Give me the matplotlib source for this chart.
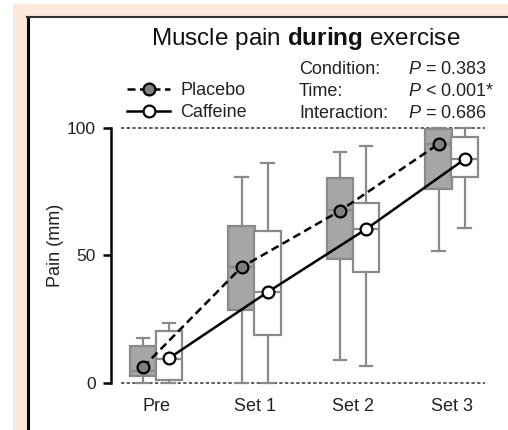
import numpy as np
import matplotlib
matplotlib.use("Agg")
import matplotlib.pyplot as plt
from matplotlib.patches import Rectangle
from matplotlib.lines import Line2D

plt.rcParams["font.family"] = ["Liberation Sans", "DejaVu Sans"]
plt.rcParams["mathtext.fontset"] = "custom"
plt.rcParams["mathtext.rm"] = "Liberation Sans"
plt.rcParams["mathtext.it"] = "Liberation Sans:italic"
plt.rcParams["mathtext.bf"] = "Liberation Sans:bold"

cats = ["Pre", "Set 1", "Set 2", "Set 3"]

# means (line markers)
placebo_mean = [6.2, 45.4, 67.5, 93.7]
caffeine_mean = [9.7, 35.6, 60.3, 87.7]

# box stats
placebo_q1 = [2.8, 28.6, 48.5, 76.0]
placebo_med = [4.5, 45.5, 67.8, 93.7]
placebo_q3 = [14.5, 61.6, 80.2, 99.5]
placebo_lo = [0, 0, 9.0, 51.8]
placebo_hi = [17.6, 80.7, 90.7, 100]

caffeine_q1 = [1.3, 18.8, 43.4, 80.7]
caffeine_med = [9.5, 35.8, 60.3, 87.7]
caffeine_q3 = [20.3, 59.6, 70.5, 96.6]
caffeine_lo = [0, 0, 6.8, 60.7]
caffeine_hi = [23.5, 86.1, 92.9, 100]

stats_names = ["Condition:", "Time:", "Interaction:"]
stats_p = [r"$\it{P}$ = 0.383", r"$\it{P}$ < 0.001*", r"$\it{P}$ = 0.686"]

W, H = 508, 430
fig = plt.figure(figsize=(W / 100, H / 100), dpi=100)
fig.patch.set_facecolor("white")

# peach frame + white panel
fig.add_artist(Rectangle((13 / W, 0), 1, 1 - 4 / H, transform=fig.transFigure,
                         facecolor="#fbe8da", edgecolor="none", zorder=-10))
fig.add_artist(Rectangle((28 / W, 0), 1, 1 - 17 / H, transform=fig.transFigure,
                         facecolor="white", edgecolor="none", zorder=-9))
fig.add_artist(Line2D([28 / W, 28 / W], [0, 1 - 16.5 / H], transform=fig.transFigure,
                      color="black", lw=2.2))
fig.add_artist(Line2D([27 / W, 1], [1 - 16.5 / H, 1 - 16.5 / H], transform=fig.transFigure,
                      color="#333333", lw=1.5))

ax = fig.add_axes([111 / W, (H - 385.5) / H, 380 / W, 260.1 / H])
x = np.arange(len(cats))
off = 0.132
wid = 0.265
edge = "#8a8a8a"


def box_stats(q1, med, q3, lo, hi):
    return [dict(q1=a, med=b, q3=c, whislo=d, whishi=e, fliers=[])
            for a, b, c, d, e in zip(q1, med, q3, lo, hi)]


for st, pos, fc in [
    (box_stats(placebo_q1, placebo_med, placebo_q3, placebo_lo, placebo_hi), x - off, "#a6a6a6"),
    (box_stats(caffeine_q1, caffeine_med, caffeine_q3, caffeine_lo, caffeine_hi), x + off, "white"),
]:
    ax.bxp(st, positions=pos, widths=wid, patch_artist=True, showfliers=False,
           boxprops=dict(facecolor=fc, edgecolor=edge, linewidth=1.6),
           whiskerprops=dict(color=edge, linewidth=1.6),
           capprops=dict(color=edge, linewidth=1.6),
           medianprops=dict(color=edge, linewidth=1.6),
           capwidths=0.13, manage_ticks=False)

ax.hlines([0, 100], -0.355, 3.34, colors="#333333", linestyles=(0, (2.2, 1.5)),
          linewidth=1.1, zorder=1)

ax.plot(x - off, placebo_mean, color="black", lw=1.8, ls=(0, (3.2, 1.8)),
        marker="o", ms=8.5, mfc="#808080", mec="black", mew=1.6, label="Placebo",
        zorder=5, clip_on=False)
ax.plot(x + off, caffeine_mean, color="black", lw=1.8, ls="-",
        marker="o", ms=8.5, mfc="white", mec="black", mew=1.6, label="Caffeine",
        zorder=5, clip_on=False)

ax.set_xlim(-0.457, 3.401)
ax.set_ylim(-1, 101)
ax.set_xticks(x)
ax.set_xticklabels(cats, fontsize=13)
ax.set_yticks([0, 50, 100])
ax.set_yticklabels(["0", "50", "100"], fontsize=12.5)
ax.tick_params(axis="x", length=0, pad=9, colors="#222222")
ax.tick_params(axis="y", length=6, width=1.8, pad=5, colors="black", labelcolor="#222222")
for s in ["top", "right", "bottom"]:
    ax.spines[s].set_visible(False)
ax.spines["left"].set_bounds(0, 100)
ax.spines["left"].set_linewidth(1.8)
ax.patch.set_alpha(0)

fig.text(55 / W, 1 - 245 / H, "Pain (mm)", rotation=90, ha="center", va="center",
         fontsize=13, color="#222222")

fig.text(306 / W, 1 - 45 / H, r"Muscle pain $\bf{during}$ exercise", ha="center",
         va="baseline", fontsize=17.5, color="#111111")

for i, (nm, p) in enumerate(zip(stats_names, stats_p)):
    yb = 1 - (74.5 + 21.5 * i) / H
    fig.text(299 / W, yb, nm, ha="left", va="baseline", fontsize=13, color="#222222")
    fig.text(408 / W, yb, p, ha="left", va="baseline", fontsize=13, color="#222222")

ax.legend(loc="upper left", bbox_to_anchor=(127 / W, 1 - 82 / H),
          bbox_transform=fig.transFigure, frameon=False, fontsize=13,
          handlelength=2.4, handletextpad=0.55, labelspacing=0.3,
          borderpad=0, borderaxespad=0, labelcolor="#222222")

fig.savefig("out.png", dpi=100)
